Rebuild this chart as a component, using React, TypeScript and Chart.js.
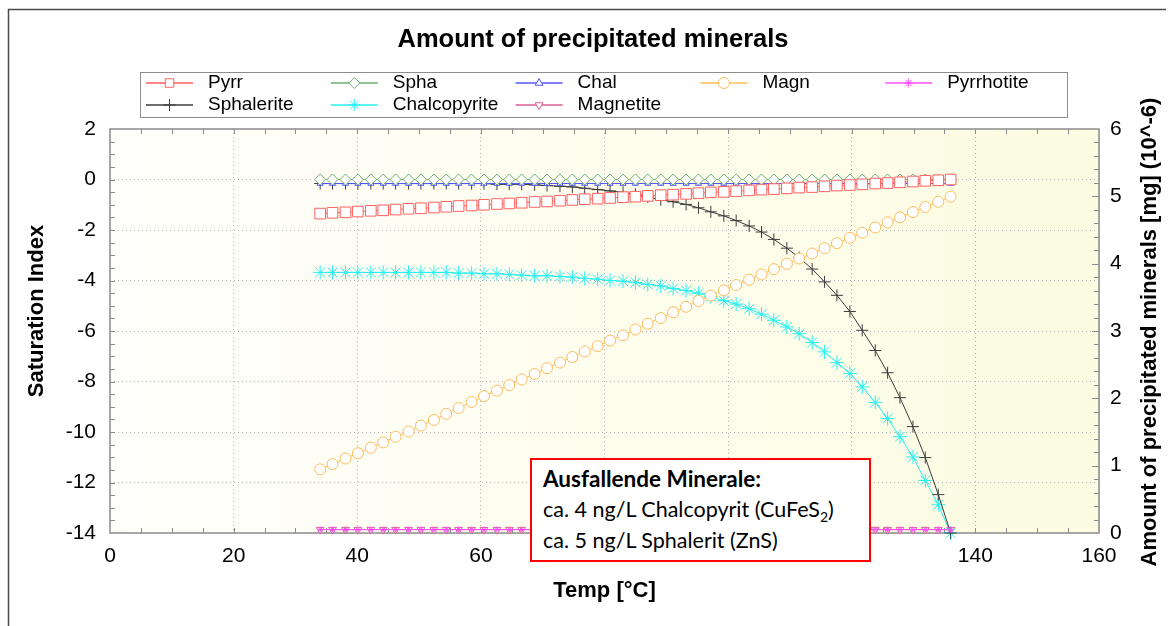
import React, { useEffect, useRef } from "react";
import { Chart, registerables } from "chart.js";
import { drawPoint } from "chart.js/helpers";

Chart.register(...registerables);

// Temperature steps of the cooling run [°C]
const temps = [34.0, 36.0, 38.1, 40.1, 42.2, 44.2, 46.2, 48.3, 50.3, 52.4, 54.4, 56.4, 58.5, 60.5, 62.6, 64.6, 66.6, 68.7, 70.7, 72.8, 74.8, 76.8, 78.9, 80.9, 83.0, 85.0, 87.0, 89.1, 91.1, 93.2, 95.2, 97.2, 99.3, 101.3, 103.4, 105.4, 107.4, 109.5, 111.5, 113.6, 115.6, 117.6, 119.7, 121.7, 123.8, 125.8, 127.8, 129.9, 131.9, 134.0, 136.0];

// Saturation indices (left axis)
const siPyrr = [-1.35, -1.32, -1.30, -1.27, -1.24, -1.22, -1.19, -1.16, -1.14, -1.11, -1.08, -1.05, -1.03, -1.00, -0.97, -0.95, -0.92, -0.89, -0.87, -0.84, -0.81, -0.78, -0.76, -0.73, -0.70, -0.68, -0.65, -0.62, -0.60, -0.57, -0.54, -0.51, -0.49, -0.46, -0.43, -0.40, -0.38, -0.35, -0.32, -0.30, -0.27, -0.24, -0.22, -0.19, -0.16, -0.14, -0.11, -0.08, -0.05, -0.03, 0.00];
const siSpha = [0, 0, 0, 0, 0, 0, 0, 0, 0, 0, 0, 0, 0, 0, 0, 0, 0, 0, 0, 0, 0, 0, 0, 0, 0, 0, 0, 0, 0, 0, 0, 0, 0, 0, 0, 0, 0, 0, 0, 0, 0, 0, 0, 0, 0, 0, 0, 0, 0, 0, 0];
const siChal = [-0.16, -0.16, -0.16, -0.16, -0.16, -0.16, -0.16, -0.16, -0.16, -0.16, -0.16, -0.16, -0.16, -0.16, -0.16, -0.16, -0.16, -0.16, -0.16, -0.16, -0.16, -0.16, -0.16, -0.16, -0.16, -0.16, -0.16, -0.16, -0.16, -0.16, -0.16, -0.16, -0.16, -0.16, -0.16, -0.16, -0.16, -0.16, -0.16, -0.16, -0.16, -0.16, -0.16, -0.16, -0.16, -0.16, -0.16, -0.16, -0.16, -0.16, -0.16];
const siMagn = [-11.48, -11.27, -11.05, -10.84, -10.62, -10.41, -10.19, -9.98, -9.75, -9.52, -9.28, -9.05, -8.81, -8.58, -8.36, -8.14, -7.92, -7.70, -7.47, -7.25, -7.03, -6.81, -6.60, -6.38, -6.17, -5.94, -5.71, -5.49, -5.26, -5.04, -4.81, -4.60, -4.39, -4.18, -3.97, -3.76, -3.55, -3.34, -3.13, -2.93, -2.72, -2.52, -2.31, -2.11, -1.90, -1.70, -1.50, -1.29, -1.09, -0.88, -0.68];

// Precipitated amounts [mg] (10^-6) (right axis)
const amtPyrrhotite = [0.05, 0.05, 0.05, 0.05, 0.05, 0.05, 0.05, 0.05, 0.05, 0.05, 0.05, 0.05, 0.05, 0.05, 0.05, 0.05, 0.05, 0.05, 0.05, 0.05, 0.05, 0.05, 0.05, 0.05, 0.05, 0.05, 0.05, 0.05, 0.05, 0.05, 0.05, 0.05, 0.05, 0.05, 0.05, 0.05, 0.05, 0.05, 0.05, 0.05, 0.05, 0.05, 0.05, 0.05, 0.05, 0.05, 0.05, 0.05, 0.05, 0.05, 0.05];
const amtSphalerite = [5.19, 5.19, 5.19, 5.19, 5.19, 5.19, 5.19, 5.19, 5.19, 5.19, 5.19, 5.19, 5.19, 5.19, 5.18, 5.18, 5.18, 5.17, 5.16, 5.15, 5.14, 5.12, 5.10, 5.08, 5.06, 5.03, 4.99, 4.95, 4.92, 4.88, 4.83, 4.77, 4.71, 4.64, 4.56, 4.47, 4.36, 4.23, 4.09, 3.92, 3.73, 3.53, 3.29, 3.01, 2.71, 2.38, 2.01, 1.58, 1.12, 0.57, 0.00];
const amtChalcopyrite = [3.87, 3.87, 3.87, 3.87, 3.87, 3.87, 3.87, 3.87, 3.87, 3.87, 3.87, 3.86, 3.86, 3.85, 3.85, 3.84, 3.83, 3.82, 3.82, 3.81, 3.80, 3.78, 3.77, 3.75, 3.74, 3.72, 3.69, 3.67, 3.63, 3.60, 3.56, 3.51, 3.45, 3.40, 3.33, 3.25, 3.16, 3.06, 2.96, 2.83, 2.69, 2.53, 2.37, 2.17, 1.94, 1.70, 1.43, 1.13, 0.78, 0.42, 0.00];
const amtMagnetite = [0.05, 0.05, 0.05, 0.05, 0.05, 0.05, 0.05, 0.05, 0.05, 0.05, 0.05, 0.05, 0.05, 0.05, 0.05, 0.05, 0.05, 0.05, 0.05, 0.05, 0.05, 0.05, 0.05, 0.05, 0.05, 0.05, 0.05, 0.05, 0.05, 0.05, 0.05, 0.05, 0.05, 0.05, 0.05, 0.05, 0.05, 0.05, 0.05, 0.05, 0.05, 0.05, 0.05, 0.05, 0.05, 0.05, 0.05, 0.05, 0.05, 0.05, 0.05];

const FONT = "'Liberation Sans', Arial, sans-serif";

type SeriesDef = {
  label: string;
  values: number[];
  axis: "y" | "y1";
  color: string;
  pointStyle: string;
  radius: number;
  rotation?: number;
};

const series: SeriesDef[] = [
  { label: "Pyrr", values: siPyrr, axis: "y", color: "rgb(255,95,95)", pointStyle: "rect", radius: 7.5 },
  { label: "Spha", values: siSpha, axis: "y", color: "rgb(110,175,110)", pointStyle: "rectRot", radius: 5.5 },
  { label: "Chal", values: siChal, axis: "y", color: "rgb(85,85,255)", pointStyle: "triangle", radius: 3.5 },
  { label: "Magn", values: siMagn, axis: "y", color: "rgb(255,188,90)", pointStyle: "circle", radius: 5.5 },
  { label: "Pyrrhotite", values: amtPyrrhotite, axis: "y1", color: "rgb(255,80,255)", pointStyle: "star", radius: 3 },
  { label: "Sphalerite", values: amtSphalerite, axis: "y1", color: "rgb(60,60,60)", pointStyle: "cross", radius: 6 },
  { label: "Chalcopyrite", values: amtChalcopyrite, axis: "y1", color: "rgb(40,240,240)", pointStyle: "star", radius: 7 },
  { label: "Magnetite", values: amtMagnetite, axis: "y1", color: "rgb(215,95,150)", pointStyle: "triangle", radius: 4.5, rotation: 180 },
];

const chartDecor = {
  id: "chartDecor",
  beforeDraw(chart: any) {
    const { ctx, chartArea: a, width, height } = chart;
    ctx.save();
    ctx.fillStyle = "#ffffff";
    ctx.fillRect(0, 0, width, height);
    const g = ctx.createLinearGradient(a.left, 0, a.right, 0);
    g.addColorStop(0, "#fffffb");
    g.addColorStop(1, "#fcfce2");
    ctx.fillStyle = g;
    ctx.fillRect(a.left, a.top, a.right - a.left, a.bottom - a.top);
    ctx.restore();
  },
  beforeDatasetsDraw(chart: any) {
    const { ctx, chartArea: a, scales } = chart;
    const x = scales.x, y = scales.y, y1 = scales.y1;
    ctx.save();
    ctx.strokeStyle = "#8a8a8a";
    ctx.lineWidth = 1;
    ctx.beginPath();
    // inward ticks on top and bottom edges
    for (let v = 5; v < 160; v += 5) {
      const px = Math.round(x.getPixelForValue(v)) + 0.5;
      ctx.moveTo(px, a.top);
      ctx.lineTo(px, a.top + 5);
      ctx.moveTo(px, a.bottom);
      ctx.lineTo(px, a.bottom - 5);
    }
    // left axis ticks every 0.5
    for (let v = -13.5; v < 2; v += 0.5) {
      const py = Math.round(y.getPixelForValue(v)) + 0.5;
      ctx.moveTo(a.left, py);
      ctx.lineTo(a.left + 5, py);
    }
    // right axis ticks every 0.2
    for (let k = 1; k < 30; k++) {
      const py = Math.round(y1.getPixelForValue(k * 0.2)) + 0.5;
      const len = k % 5 === 0 ? 7 : 5;
      ctx.moveTo(a.right, py);
      ctx.lineTo(a.right - len, py);
    }
    ctx.stroke();
    ctx.lineWidth = 1.5;
    ctx.strokeRect(a.left, a.top, a.right - a.left, a.bottom - a.top);
    ctx.restore();
  },
  afterDraw(chart: any) {
    const { ctx, chartArea: a } = chart;
    ctx.save();
    // outer frame
    ctx.strokeStyle = "#4a4a4a";
    ctx.lineWidth = 1.5;
    ctx.beginPath();
    ctx.moveTo(8.5, 626);
    ctx.lineTo(8.5, 9.5);
    ctx.lineTo(1166, 9.5);
    ctx.stroke();

    // chart title
    ctx.fillStyle = "#000";
    ctx.textAlign = "center";
    ctx.textBaseline = "middle";
    ctx.font = `bold 25.5px ${FONT}`;
    ctx.fillText("Amount of precipitated minerals", 593, 40);

    // axis titles
    ctx.font = `bold 22px ${FONT}`;
    ctx.fillText("Temp [°C]", (a.left + a.right) / 2, 591);
    ctx.save();
    ctx.translate(37, 311);
    ctx.rotate(-Math.PI / 2);
    ctx.fillText("Saturation Index", 0, 0);
    ctx.restore();
    ctx.save();
    ctx.translate(1150, 332);
    ctx.rotate(-Math.PI / 2);
    ctx.fillText("Amount of precipitated minerals [mg] (10^-6)", 0, 0);
    ctx.restore();

    // legend
    ctx.strokeStyle = "#8c8c8c";
    ctx.lineWidth = 1;
    ctx.strokeRect(140.5, 72.5, 927, 45);
    ctx.font = `19px ${FONT}`;
    ctx.textAlign = "left";
    chart.data.datasets.forEach((ds: any, i: number) => {
      const col = i % 5;
      const row = Math.floor(i / 5);
      const tx = 208 + col * 184.8;
      const x0 = tx - 62;
      const yy = 83 + row * 22;
      ctx.strokeStyle = ds.borderColor;
      ctx.lineWidth = 1.5;
      ctx.beginPath();
      ctx.moveTo(x0, yy);
      ctx.lineTo(x0 + 47, yy);
      ctx.stroke();
      ctx.lineWidth = 1;
      ctx.fillStyle = "#ffffff";
      drawPoint(ctx, { pointStyle: ds.pointStyle, rotation: ds.pointRotation || 0, radius: Math.max(4.5, Math.min(ds.pointRadius, 6)), borderWidth: 1 }, x0 + 23.5, yy);
      ctx.fillStyle = "#000";
      ctx.fillText(ds.label, tx, yy);
    });
    ctx.restore();
  },
};

export default function App() {
  const canvasRef = useRef<HTMLCanvasElement | null>(null);

  useEffect(() => {
    const canvas = canvasRef.current;
    if (!canvas) return;
    const gridColor = (c: any) =>
      c.tick && (c.tick.value === c.scale.min || c.tick.value === c.scale.max) ? "rgba(0,0,0,0)" : "#b2b2b2";
    const chart = new Chart(canvas, {
      type: "line",
      data: {
        datasets: series.map((s) => ({
          label: s.label,
          data: temps.map((t, i) => ({ x: t, y: s.values[i] })),
          yAxisID: s.axis,
          borderColor: s.color,
          backgroundColor: "#ffffff",
          borderWidth: 1,
          pointStyle: s.pointStyle as any,
          pointRadius: s.radius,
          pointRotation: s.rotation || 0,
          pointBorderColor: s.color,
          pointBackgroundColor: "#ffffff",
          pointBorderWidth: 1,
          tension: 0,
          fill: false,
          clip: false as any,
        })),
      },
      options: {
        animation: false,
        responsive: false,
        devicePixelRatio: 1,
        layout: { padding: { top: 129, left: 0, right: 0, bottom: 0 } },
        plugins: { legend: { display: false }, title: { display: false }, tooltip: { enabled: false } },
        scales: {
          x: {
            type: "linear",
            min: 0,
            max: 160,
            afterFit: (scale: any) => { scale.height = 93; },
            ticks: { stepSize: 20, color: "#000", padding: 11, font: { family: FONT, size: 21 } },
            grid: { drawTicks: false, color: gridColor, lineWidth: 1 },
            border: { display: false, dash: [1, 3] },
          },
          y: {
            type: "linear",
            position: "left",
            min: -14,
            max: 2,
            afterFit: (scale: any) => { scale.width = 110; },
            ticks: { stepSize: 2, color: "#000", padding: 14, font: { family: FONT, size: 21 } },
            grid: { drawTicks: false, color: gridColor, lineWidth: 1 },
            border: { display: false, dash: [1, 3] },
          },
          y1: {
            type: "linear",
            position: "right",
            min: 0,
            max: 6,
            afterFit: (scale: any) => { scale.width = 72; },
            ticks: { stepSize: 1, color: "#000", padding: 11, font: { family: FONT, size: 21 } },
            grid: { drawTicks: false, drawOnChartArea: false },
            border: { display: false },
          },
        },
      },
      plugins: [chartDecor],
    } as any);
    return () => chart.destroy();
  }, []);

  return (
    <div style={{ position: "fixed", left: 0, top: 0, width: 1171, height: 626, background: "#fff" }}>
      <canvas ref={canvasRef} width={1171} height={626} style={{ display: "block" }} />
      <div
        style={{
          position: "absolute",
          left: 530,
          top: 458,
          width: 341,
          height: 104,
          boxSizing: "border-box",
          border: "2px solid #ff0000",
          background: "#ffffff",
          fontFamily: "Lato, 'Open Sans', sans-serif",
          fontSize: 21.5,
          lineHeight: "31px",
          paddingTop: 3,
          paddingLeft: 11,
          color: "#000",
          whiteSpace: "nowrap",
        }}
      >
        <div style={{ fontWeight: 700, fontSize: 22.5 }}>Ausfallende Minerale:</div>
        <div>
          ca. 4 ng/L Chalcopyrit (CuFeS<sub style={{ fontSize: 14, lineHeight: 0 }}>2</sub>)
        </div>
        <div>ca. 5 ng/L Sphalerit (ZnS)</div>
      </div>
    </div>
  );
}
